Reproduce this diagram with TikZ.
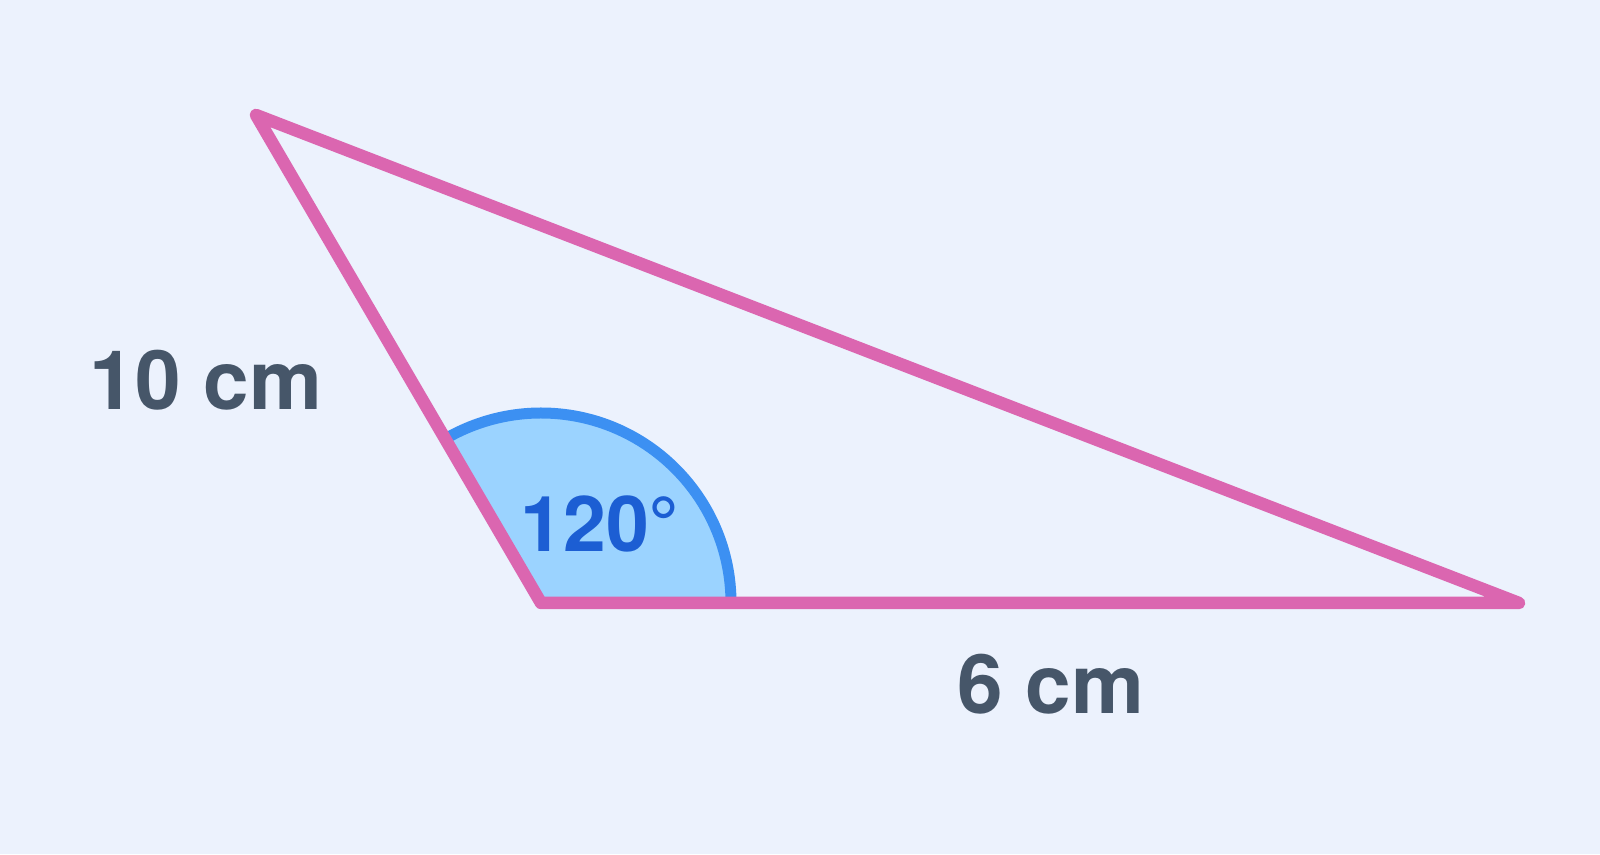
\documentclass[tikz,border=0pt]{standalone}
\usepackage{fontspec}
\setmainfont{TeX Gyre Heros}
\usetikzlibrary{calc}
\definecolor{bgblue}{HTML}{ECF2FD}
\definecolor{sidepink}{HTML}{DB66B0}
\definecolor{arcblue}{HTML}{3C90F2}
\definecolor{fillblue}{HTML}{9BD3FF}
\definecolor{angletext}{HTML}{1C5ED3}
\definecolor{labelgray}{HTML}{465669}
\tikzset{
	side/.style={line width=12.5pt, color=sidepink, line join=round, line cap=round},
	anglearc/.style={line width=11pt, color=arcblue},
	lengthlabel/.style={text=labelgray, font=\fontsize{82}{94}\selectfont\bfseries},
	anglelabel/.style={text=angletext, font=\fontsize{77}{88}\selectfont\bfseries}
}

\begin{document}
\begin{tikzpicture}[x=1pt, y=1pt]
			%%%%% START %%%%%
			
			\fill[bgblue] (0, 0) rectangle (1600, 854);
			\useasboundingbox (0, 0) rectangle (1600, 854);
			
			\coordinate (top) at (256, 739);
			\coordinate (apex) at (541, 251);
			\coordinate (right) at (1519, 251);
			
			\fill[fillblue] (apex) -- ($(apex)+(190pt, 0)$) arc (0:120:190pt) -- cycle;
			\draw[anglearc] ($(apex)+(190pt, 0)$) arc (0:120:190pt);
			
			\draw[side] (top) -- (apex) -- (right) -- cycle;
			
			\node[anglelabel] (angle) at (600, 330) {120°};
			\node[lengthlabel] (longside) at (206, 474) {10 cm};
			\node[lengthlabel] (base) at (1051, 170) {6 cm};
			
			%%%%% END %%%%%
		\end{tikzpicture}
\end{document}
